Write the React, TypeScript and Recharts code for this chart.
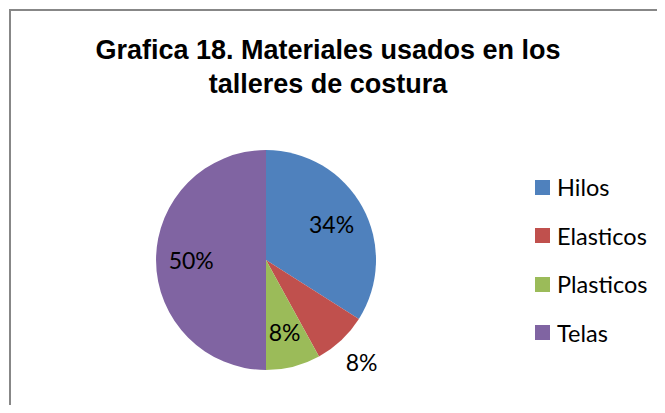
import React from 'react'
import { PieChart, Pie, Cell, Legend } from 'recharts'

const materials = ['Hilos', 'Elasticos', 'Plasticos', 'Telas']
const shares = [34, 8, 8, 50]
const colors = ['#4F81BD', '#C0504D', '#9BBB59', '#8064A2']
const outsideLabels = ['Elasticos']

const data = materials.map((name, i) => ({ name, value: shares[i] }))

const RAD = Math.PI / 180

function SliceLabel(props: any) {
  const { cx, cy, midAngle, outerRadius, index } = props
  const outside = outsideLabels.includes(materials[index])
  const r = outside ? outerRadius * 1.27 : outerRadius * 0.68
  const x = cx + r * Math.cos(-midAngle * RAD)
  const y = cy + r * Math.sin(-midAngle * RAD)
  return (
    <text x={x} y={y} textAnchor="middle" dominantBaseline="central"
      fontFamily="Lato" fontSize={23} fill="#000">
      {shares[index]}%
    </text>
  )
}

function LegendBox() {
  return (
    <div style={{ fontFamily: 'Lato', fontSize: 23.5, color: '#000' }}>
      {materials.map((m, i) => (
        <div key={m} style={{ display: 'flex', alignItems: 'center', height: 48.5 }}>
          <span style={{ width: 15, height: 15, background: colors[i], marginRight: 7, display: 'inline-block' }} />
          <span>{m}</span>
        </div>
      ))}
    </div>
  )
}

export default function App() {
  return (
    <div style={{ margin: -8, width: 665, height: 413, position: 'relative', overflow: 'hidden', background: '#fff' }}>
      <div style={{ position: 'absolute', left: 9, top: 9, width: 720, height: 480, border: '2px solid #878787', boxSizing: 'border-box' }} />
      <div style={{
        position: 'absolute', left: 0, top: 33, width: 656, textAlign: 'center',
        fontFamily: '"Liberation Sans", Arial, sans-serif', fontWeight: 'bold', fontSize: 27, lineHeight: '34px', color: '#000',
      }}>
        Grafica 18. Materiales usados en los<br />talleres de costura
      </div>
      <div style={{ position: 'absolute', left: 0, top: 0 }}>
        <PieChart width={665} height={413} margin={{ top: 0, right: 0, bottom: 0, left: 0 }}>
          <Pie data={data} dataKey="value" nameKey="name" cx={266} cy={260} outerRadius={110}
            startAngle={90} endAngle={-270} stroke="none" label={SliceLabel} labelLine={false}
            isAnimationActive={false}>
            {data.map((d, i) => <Cell key={d.name} fill={colors[i]} />)}
          </Pie>
          <Legend layout="vertical" align="right" verticalAlign="top" content={LegendBox}
            wrapperStyle={{ left: 535, top: 163, width: 130 }} />
        </PieChart>
      </div>
    </div>
  )
}
